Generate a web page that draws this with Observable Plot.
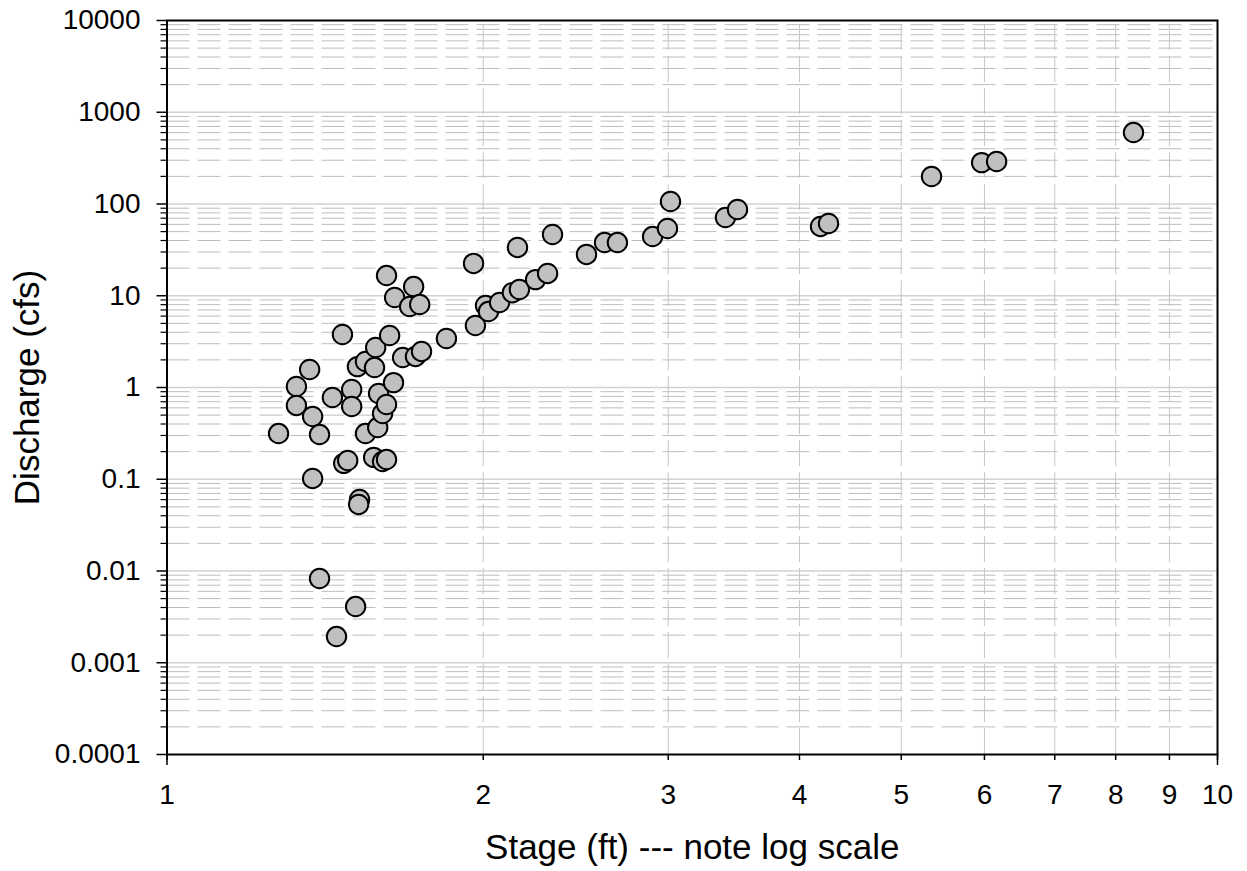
<!DOCTYPE html>
<html>
<head>
<meta charset="utf-8">
<script src="https://cdn.jsdelivr.net/npm/d3@7"></script>
<script src="https://cdn.jsdelivr.net/npm/@observablehq/plot@0.6"></script>
<style>
  html, body { margin: 0; padding: 0; background: white; }
  #chart svg { display: block; }
</style>
</head>
<body>
<div id="chart"></div>
<script>
// Stage (ft) and discharge (cfs)
const stage = [
  1.277, 1.328, 1.328, 1.367, 1.376, 1.376, 1.397, 1.397, 1.437, 1.450,
  1.469, 1.473, 1.486, 1.499, 1.499, 1.512, 1.518, 1.525, 1.522, 1.545,
  1.545, 1.576, 1.580, 1.573, 1.587, 1.590, 1.604, 1.604, 1.618, 1.618,
  1.618, 1.629, 1.643, 1.647, 1.676, 1.702, 1.717, 1.740, 1.724, 1.747,
  1.845, 1.958, 1.966, 2.010, 2.023, 2.073, 2.132, 2.165, 2.156, 2.243,
  2.303, 2.328, 2.508, 2.609, 2.684, 2.899, 2.995, 3.015, 3.401, 3.492,
  4.189, 4.263, 5.343, 5.963, 6.162, 8.318
];
const discharge = [
  0.315, 1.025, 0.637, 1.57, 0.483, 0.102, 0.307, 0.00828, 0.778, 0.00193,
  3.78, 0.149, 0.160, 0.951, 0.621, 0.0041, 1.69, 0.0602, 0.0531, 1.92,
  0.315, 1.65, 2.73, 0.173, 0.366, 0.860, 0.521, 0.156, 0.653, 0.164,
  16.6, 3.69, 1.13, 9.57, 2.12, 7.63, 12.6, 8.03, 2.18, 2.47,
  3.42, 22.5, 4.74, 7.83, 6.73, 8.44, 10.8, 11.7, 33.6, 15.0,
  17.5, 46.5, 28.2, 38.0, 38.0, 44.2, 54.1, 106.5, 71.3, 87.1,
  56.9, 61.3, 199.5, 282.7, 290.5, 601
];

// Axis ticks
const yDecades = [0.0001, 0.001, 0.01, 0.1, 1, 10, 100, 1000, 10000];
const yTickLabels = ["0.0001", "0.001", "0.01", "0.1", "1", "10", "100", "1000", "10000"];
const minorSteps = [2, 3, 4, 5, 6, 7, 8, 9];
const xTicks = [1, 2, 3, 4, 5, 6, 7, 8, 9, 10];
const xTickLabels = ["1", "2", "3", "4", "5", "6", "7", "8", "9", "10"];

const xTitle = "Stage (ft) --- note log scale";
const yTitle = "Discharge (cfs)";

const data = stage.map((s, i) => ({stage: s, discharge: discharge[i]}));
const yMinor = [];
yDecades.slice(0, -1).forEach(d => minorSteps.forEach(m => yMinor.push(m * d)));
const yInnerDecades = yDecades.slice(1, -1);
const xMinor = minorSteps;
const yLabelMap = new Map(yDecades.map((d, i) => [d, yTickLabels[i]]));
const xLabelMap = new Map(xTicks.map((d, i) => [d, xTickLabels[i]]));

const FONT = "'Liberation Sans', Arial, sans-serif";

const chart = Plot.plot({
  width: 1247,
  height: 871,
  marginLeft: 166.5,
  marginRight: 30,
  marginTop: 20,
  marginBottom: 117,
  style: {fontFamily: FONT, background: "white", color: "black", overflow: "visible"},
  x: {type: "log", domain: [1, 10], axis: null},
  y: {type: "log", domain: [0.0001, 10000], axis: null},
  marks: [
    Plot.ruleY(yInnerDecades, {x1: 1, x2: 10, stroke: "#d2d2d2", strokeWidth: 1.5}),
    Plot.ruleY(yMinor, {x1: 1, x2: 10, stroke: "#bdbdbd", strokeWidth: 1, strokeDasharray: "23,8"}),
    Plot.ruleX(xMinor, {y1: 0.0001, y2: 10000, stroke: "#c6c6c6", strokeWidth: 1, strokeDasharray: "26,6"}),
    Plot.frame({stroke: "black", strokeWidth: 2}),
    Plot.axisY(yMinor, {label: null, tickSize: 6, tickFormat: () => "", stroke: "black", strokeWidth: 1.2}),
    Plot.axisY(yDecades, {label: null, tickSize: 10, tickPadding: 16.5, tickFormat: d => yLabelMap.get(d),
      fontSize: 28, stroke: "black", strokeWidth: 1.5, fill: "black"}),
    Plot.axisX(xTicks, {label: null, tickSize: 6, tickPadding: 24, tickFormat: d => xLabelMap.get(d),
      fontSize: 28, stroke: "black", strokeWidth: 1.5, fill: "black"}),
    Plot.axisX([1, 10], {label: null, tickSize: 11, tickFormat: () => "", stroke: "black", strokeWidth: 1.5}),
    Plot.text([yTitle], {frameAnchor: "left", textAnchor: "middle", lineAnchor: "middle", rotate: -90,
      dx: -139, fontSize: 35, fill: "black"}),
    Plot.text([xTitle], {frameAnchor: "bottom", textAnchor: "middle", lineAnchor: "middle",
      dy: 93, fontSize: 35, fill: "black"}),
    Plot.dot(data, {x: "stage", y: "discharge", r: 9.7, fill: "#c0c0c0", stroke: "black", strokeWidth: 2})
  ]
});
document.getElementById("chart").appendChild(chart);
</script>
</body>
</html>
